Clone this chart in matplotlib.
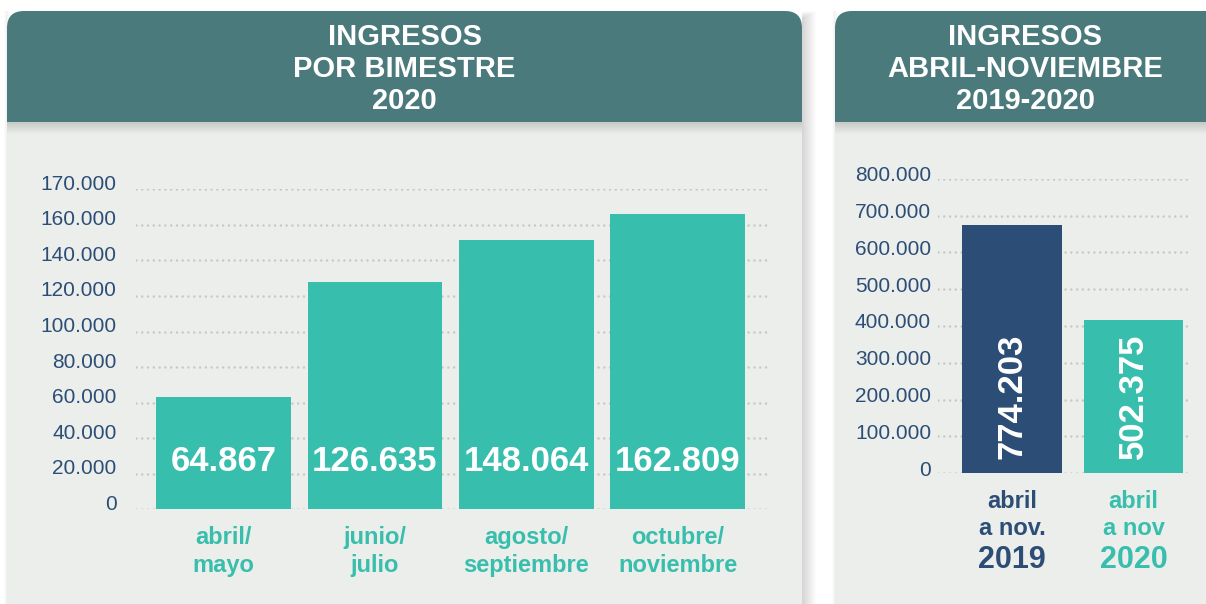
import numpy as np
import matplotlib.pyplot as plt
from matplotlib.patches import FancyBboxPatch, Rectangle
from matplotlib.transforms import ScaledTranslation

plt.rcParams['font.family'] = ['Liberation Sans', 'DejaVu Sans']

# datos
bimestres = ['abril/\nmayo', 'junio/\njulio', 'agosto/\nseptiembre', 'octubre/\nnoviembre']
ingresos_bim = ['64.867', '126.635', '148.064', '162.809']
alturas_bim = [63400, 127700, 151200, 166300]      # alto de las barras tal como se ven
ticks_bim = ['0', '20.000', '40.000', '60.000', '80.000', '100.000',
             '120.000', '140.000', '160.000', '170.000']

periodos = ['abril\na nov.', 'abril\na nov']
anios = ['2019', '2020']
ingresos_anual = ['774.203', '502.375']
alturas_anual = [675000, 416000]
ticks_anual = np.arange(0, 800001, 100000)

# colores
verde = '#38BEAD'
azul = '#2C4E76'
cabecera = '#4B7A7D'
fondo = '#ECEEEB'
grilla = '#C6C8C6'

W, H = 1206, 604
fig = plt.figure(figsize=(W / 100, H / 100), dpi=100)
fig.patch.set_facecolor('white')

# capa de fondo en pixeles
bg = fig.add_axes([0, 0, 1, 1])
bg.set_xlim(0, W)
bg.set_ylim(H, 0)
bg.axis('off')


def panel(x0, x1, titulo, xc):
    # sombra lateral
    for k in range(14):
        bg.add_patch(Rectangle((x1, 11 + k * 0.5), 14 - k, H, color='black',
                               alpha=0.010, lw=0))
        bg.add_patch(Rectangle((x0 - 3 + k * 0.2, 11), 3, H, color='black',
                               alpha=0.004, lw=0))
    bg.add_patch(FancyBboxPatch((x0, 11), x1 - x0, 140,
                                boxstyle='round,pad=0,rounding_size=17',
                                fc=cabecera, ec='none'))
    bg.add_patch(Rectangle((x0, 122), x1 - x0, H - 122, fc=fondo, ec='none'))
    # sombra de la cabecera
    for k in range(12):
        bg.add_patch(Rectangle((x0, 122), x1 - x0, 12 - k, color='black',
                               alpha=0.012, lw=0))
    for i, linea in enumerate(titulo):
        bg.text(xc, 37 + i * 32, linea, color='white', fontsize=21,
                fontweight='bold', ha='center', va='center')


panel(7, 802, ['INGRESOS', 'POR BIMESTRE', '2020'], 404.5)
panel(835, 1250, ['INGRESOS', 'ABRIL-NOVIEMBRE', '2019-2020'], 1025.5)


def rect(x0, y0, x1, y1):
    return [x0 / W, 1 - y1 / H, (x1 - x0) / W, (y1 - y0) / H]


def dotted_grid(ax, ys):
    for y in ys:
        ax.axhline(y, color=grilla, lw=1.8, linestyle=(0, (0.01, 2.3)),
                   dash_capstyle='round', zorder=0)


def subir_etiquetas(ax, px):
    off = ScaledTranslation(0, px / 100, fig.dpi_scale_trans)
    for lbl in ax.get_yticklabels():
        lbl.set_transform(lbl.get_transform() + off)


# panel izquierdo
ax1 = fig.add_axes(rect(136, 189.3, 770, 509.3))
ax1.set_facecolor('none')
pos_ticks = np.arange(len(ticks_bim)) * 20000
x = np.arange(len(bimestres))
ax1.bar(x, alturas_bim, width=0.89, color=verde, zorder=2)
dotted_grid(ax1, pos_ticks)
ax1.set_xlim(-0.578, 3.61)
ax1.set_ylim(0, pos_ticks[-1])
ax1.set_yticks(pos_ticks, ticks_bim)
ax1.set_xticks(x, bimestres)
ax1.tick_params(axis='y', length=0, pad=14, labelsize=15, labelcolor=azul)
ax1.tick_params(axis='x', length=0, pad=12, labelsize=17, labelcolor=verde)
for lbl in ax1.get_xticklabels():
    lbl.set_fontweight('bold')
    lbl.set_linespacing(1.3)
for s in ax1.spines.values():
    s.set_visible(False)
for xi, txt in zip(x, ingresos_bim):
    ax1.text(xi, 27000, txt, color='white', fontsize=25, fontweight='bold',
             ha='center', va='center', zorder=3)
subir_etiquetas(ax1, 7)

# panel derecho
ax2 = fig.add_axes(rect(938, 179, 1190, 473))
ax2.set_facecolor('none')
x2 = np.arange(len(periodos))
colores = [azul, verde]
ax2.bar(x2, alturas_anual, width=0.82, color=colores, zorder=2)
dotted_grid(ax2, ticks_anual)
ax2.set_xlim(-0.61, 1.465)
ax2.set_ylim(0, 800000)
ax2.set_yticks(ticks_anual, ['0' if t == 0 else f'{t:,}'.replace(',', '.')
                             for t in ticks_anual])
ax2.set_xticks(x2, periodos)
ax2.tick_params(axis='y', length=0, pad=5, labelsize=15, labelcolor=azul)
ax2.tick_params(axis='x', length=0, pad=12, labelsize=17)
for lbl, c in zip(ax2.get_xticklabels(), colores):
    lbl.set_fontweight('bold')
    lbl.set_color(c)
    lbl.set_linespacing(1.25)
for s in ax2.spines.values():
    s.set_visible(False)
for xi, anio, c in zip(x2, anios, colores):
    ax2.annotate(anio, xy=(xi, 0), xytext=(0, -63), textcoords='offset points',
                 ha='center', va='center', fontsize=22, fontweight='bold',
                 color=c, annotation_clip=False)
for xi, txt in zip(x2, ingresos_anual):
    ax2.text(xi, 210000, txt, color='white', fontsize=25, fontweight='bold',
             ha='center', va='center', rotation=90, zorder=3)
subir_etiquetas(ax2, 5)

plt.savefig('out.png', dpi=100)
